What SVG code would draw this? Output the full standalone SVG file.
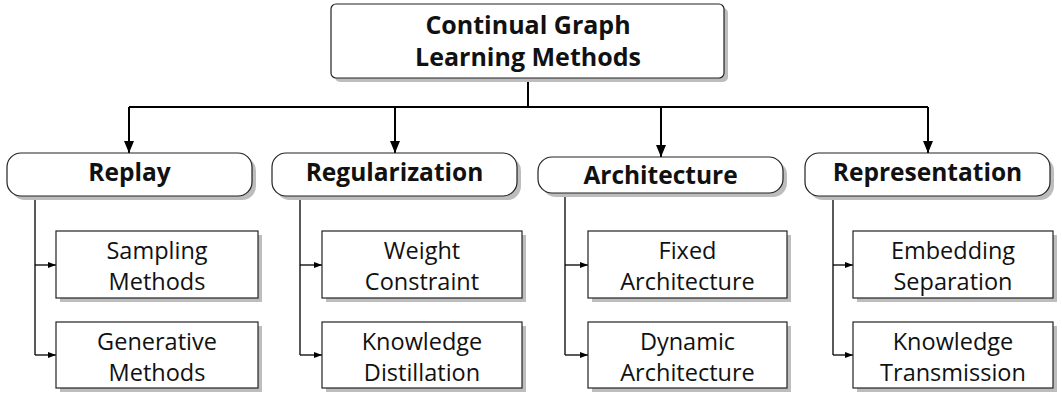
<svg xmlns="http://www.w3.org/2000/svg" width="1062" height="397" viewBox="0 0 1062 397">
<defs>
<style>
.sh{fill:#bdbdbd;stroke:none}
.bx{fill:#fff;stroke:#222;stroke-width:1.2}
.t{font-family:"Open Sans","Liberation Sans",sans-serif;text-anchor:middle;fill:#111}
.tb{font-size:25px;font-weight:bold}
.tc{font-size:24.5px;font-weight:bold}
.tn{font-size:23.5px}
.main{fill:none;stroke:#000;stroke-width:2}
.br{fill:none;stroke:#000;stroke-width:1.3}
</style>
<marker id="big" viewBox="0 0 12 10" refX="12" refY="5" markerWidth="12" markerHeight="10" markerUnits="userSpaceOnUse" orient="auto">
<path d="M0,0 L12,5 L0,10 Z" fill="#000"/>
</marker>
<marker id="sm" viewBox="0 0 8 6" refX="8" refY="3" markerWidth="8" markerHeight="6" markerUnits="userSpaceOnUse" orient="auto">
<path d="M0,0 L8,3 L0,6 Z" fill="#000"/>
</marker>
</defs>
<rect width="1062" height="397" fill="#fff"/>
<g id="connectors">
<path class="main" d="M528,78 V107 M129,107 H928"/>
<path class="main" d="M129,107 V153" marker-end="url(#big)"/>
<path class="main" d="M395,107 V153" marker-end="url(#big)"/>
<path class="main" d="M661,107 V157" marker-end="url(#big)"/>
<path class="main" d="M928,107 V153" marker-end="url(#big)"/>
<path class="br" d="M35,196 V355"/>
<path class="br" d="M35,265 H56" marker-end="url(#sm)"/>
<path class="br" d="M35,355 H56" marker-end="url(#sm)"/>
<path class="br" d="M300,196 V355"/>
<path class="br" d="M300,265 H322" marker-end="url(#sm)"/>
<path class="br" d="M300,355 H322" marker-end="url(#sm)"/>
<path class="br" d="M565,193 V355"/>
<path class="br" d="M565,265 H588" marker-end="url(#sm)"/>
<path class="br" d="M565,355 H588" marker-end="url(#sm)"/>
<path class="br" d="M833,196 V355"/>
<path class="br" d="M833,265 H853" marker-end="url(#sm)"/>
<path class="br" d="M833,355 H853" marker-end="url(#sm)"/>
</g>
<g id="root">
<rect class="sh" x="335" y="8" width="393" height="74" rx="5"/>
<rect class="bx" x="331" y="4" width="393" height="74" rx="5"/>
<text class="t tb" x="528" y="34">Continual Graph</text>
<text class="t tb" x="528" y="66">Learning Methods</text>
</g>
<g id="replay">
<rect class="sh" x="11" y="157" width="245" height="43" rx="14"/>
<rect class="bx" x="7" y="153" width="245" height="43" rx="14"/>
<text class="t tc" x="129.5" y="181">Replay</text>
</g>
<g id="regularization">
<rect class="sh" x="276" y="157" width="245" height="43" rx="14"/>
<rect class="bx" x="272" y="153" width="245" height="43" rx="14"/>
<text class="t tc" x="394.5" y="181">Regularization</text>
</g>
<g id="architecture">
<rect class="sh" x="542" y="161" width="245" height="36" rx="14"/>
<rect class="bx" x="538" y="157" width="245" height="36" rx="14"/>
<text class="t tc" x="660.5" y="184">Architecture</text>
</g>
<g id="representation">
<rect class="sh" x="809" y="157" width="245" height="43" rx="14"/>
<rect class="bx" x="805" y="153" width="245" height="43" rx="14"/>
<text class="t tc" x="927.5" y="181">Representation</text>
</g>
<g id="sampling">
<rect class="sh" x="60" y="235" width="202" height="67"/>
<rect class="bx" x="56" y="231" width="202" height="67"/>
<text class="t tn" x="157" y="259">Sampling</text>
<text class="t tn" x="157" y="290">Methods</text>
</g>
<g id="generative">
<rect class="sh" x="60" y="326" width="202" height="66"/>
<rect class="bx" x="56" y="322" width="202" height="66"/>
<text class="t tn" x="157" y="350">Generative</text>
<text class="t tn" x="157" y="381">Methods</text>
</g>
<g id="weight">
<rect class="sh" x="326" y="235" width="200" height="67"/>
<rect class="bx" x="322" y="231" width="200" height="67"/>
<text class="t tn" x="422" y="259">Weight</text>
<text class="t tn" x="422" y="290">Constraint</text>
</g>
<g id="distillation">
<rect class="sh" x="326" y="326" width="200" height="66"/>
<rect class="bx" x="322" y="322" width="200" height="66"/>
<text class="t tn" x="422" y="350">Knowledge</text>
<text class="t tn" x="422" y="381">Distillation</text>
</g>
<g id="fixed">
<rect class="sh" x="592" y="235" width="199" height="67"/>
<rect class="bx" x="588" y="231" width="199" height="67"/>
<text class="t tn" x="687.5" y="259">Fixed</text>
<text class="t tn" x="687.5" y="290">Architecture</text>
</g>
<g id="dynamic">
<rect class="sh" x="592" y="326" width="199" height="66"/>
<rect class="bx" x="588" y="322" width="199" height="66"/>
<text class="t tn" x="687.5" y="350">Dynamic</text>
<text class="t tn" x="687.5" y="381">Architecture</text>
</g>
<g id="embedding">
<rect class="sh" x="857" y="235" width="200" height="67"/>
<rect class="bx" x="853" y="231" width="200" height="67"/>
<text class="t tn" x="953" y="259">Embedding</text>
<text class="t tn" x="953" y="290">Separation</text>
</g>
<g id="transmission">
<rect class="sh" x="857" y="326" width="200" height="66"/>
<rect class="bx" x="853" y="322" width="200" height="66"/>
<text class="t tn" x="953" y="350">Knowledge</text>
<text class="t tn" x="953" y="381">Transmission</text>
</g>
</svg>
